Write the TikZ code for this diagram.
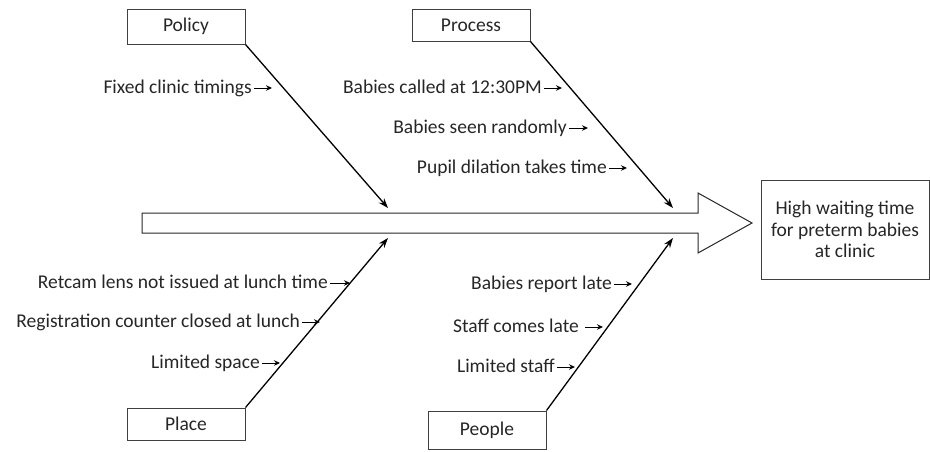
\documentclass[tikz,border=0pt]{standalone}
\usepackage{fontspec}
\setmainfont{Carlito}
\usepackage{tikz}
\usetikzlibrary{arrows.meta}

\tikzset{
  catbox/.style={draw=black!75, line width=1pt, minimum width=118pt, inner sep=0pt, text=black!85},
  cause/.style={inner sep=0pt, text=black!85, anchor=base east},
  bone/.style={line width=1.3pt, -{Stealth[length=10pt,width=7pt]}},
  subarrow/.style={line width=1pt, -{Stealth[length=6pt,width=5.5pt]}}
}

\begin{document}
\begin{tikzpicture}[x=1pt,y=-1pt, font=\fontsize{19.5}{23.5}\selectfont]
\useasboundingbox (0,0) rectangle (930,451);
% spine
\draw[line width=1pt, draw=black!85] (142,213) -- (698,213) -- (698,193) -- (752,223) -- (698,253) -- (698,233) -- (142,233) -- cycle;
\coordinate (spA) at (388,208) ;
\coordinate (spB) at (673,208) ;
\coordinate (spC) at (388,238) ;
\coordinate (spD) at (673,238) ;
% effect
\node[catbox, minimum width=168pt, minimum height=99pt, align=center, font=\fontsize{19.5}{21.7}\selectfont] (effect) at (845,229.5) {High waiting time\\for preterm babies\\at clinic} ;
% categories
\node[catbox, minimum height=35pt] (policy) at (186,26.5) {Policy} ;
\node[catbox, minimum height=32pt] (process) at (471,25) {Process} ;
\node[catbox, minimum height=32pt] (place) at (186,424) {Place} ;
\node[catbox, minimum height=38pt] (people) at (487,430) {People} ;
\draw[bone] (policy.south east) -- (spA) ;
\draw[bone] (process.south east) -- (spB) ;
\draw[bone] (place.north east) -- (spC) ;
\draw[bone] (people.north east) -- (spD) ;
% causes
\node[cause] (fixed) at (252,93) {Fixed clinic timings} ;
\draw[subarrow] ([xshift=2pt,yshift=5pt]fixed.base east) -- ++(18,0) ;
\node[cause] (called) at (542,93) {Babies called at 12:30PM} ;
\draw[subarrow] ([xshift=2pt,yshift=5pt]called.base east) -- ++(18,0) ;
\node[cause] (random) at (567,133) {Babies seen randomly} ;
\draw[subarrow] ([xshift=2pt,yshift=5pt]random.base east) -- ++(19,0) ;
\node[cause] (pupil) at (607,173) {Pupil dilation takes time} ;
\draw[subarrow] ([xshift=2pt,yshift=5pt]pupil.base east) -- ++(18,0) ;
\node[cause] (retcam) at (328,288) {Retcam lens not issued at lunch time} ;
\draw[subarrow] ([xshift=2pt,yshift=5pt]retcam.base east) -- ++(20,0) ;
\node[cause] (regist) at (300,327) {Registration counter closed at lunch} ;
\draw[subarrow] ([xshift=2pt,yshift=5pt]regist.base east) -- ++(18,0) ;
\node[cause] (space) at (260,368) {Limited space} ;
\draw[subarrow] ([xshift=2pt,yshift=5pt]space.base east) -- ++(18,0) ;
\node[cause] (report) at (612,289) {Babies report late} ;
\draw[subarrow] ([xshift=2pt,yshift=5pt]report.base east) -- ++(18,0) ;
\node[cause] (comes) at (579,332) {Staff comes late} ;
\draw[subarrow] ([xshift=6pt,yshift=5pt]comes.base east) -- ++(18,0) ;
\node[cause] (staff) at (555,372) {Limited staff} ;
\draw[subarrow] ([xshift=2pt,yshift=5pt]staff.base east) -- ++(18,0) ;
\end{tikzpicture}
\end{document}
